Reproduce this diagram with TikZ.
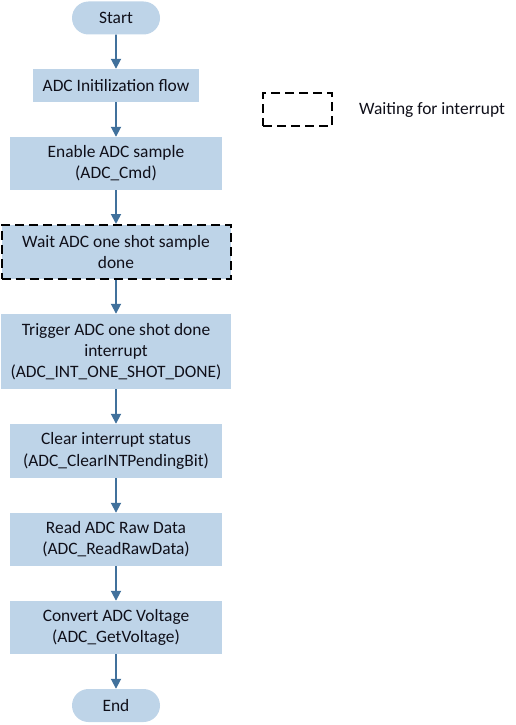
\documentclass[tikz,border=0pt]{standalone}
\usepackage{fontspec}
\setmainfont{Carlito}
\usetikzlibrary{arrows.meta,shapes.misc}
\definecolor{boxfill}{RGB}{190,212,232}
\definecolor{arrowc}{RGB}{65,113,156}
\definecolor{txt}{RGB}{15,15,25}
\tikzset{
  txtfont/.style={font=\fontsize{17.4}{21.3}\selectfont},
  proc/.style={rectangle, fill=boxfill, inner sep=0pt, align=center, text=txt, txtfont},
  term/.style={rounded rectangle, fill=boxfill, inner sep=0pt, text=txt, txtfont, minimum width=88pt, minimum height=33pt},
  waitbox/.style={draw=black, line width=2pt, dash pattern=on 9pt off 5pt},
  flow/.style={draw=arrowc, line width=1.8pt, -{Triangle[width=10pt,length=10pt]}}
}
\begin{document}
\begin{tikzpicture}[x=1pt,y=-1pt]
\useasboundingbox (0,0) rectangle (516,725);
\node[term] (start) at (116,18) {Start};
\node[proc, minimum width=166pt, minimum height=33pt] (init) at (116,85.5) {ADC Initilization flow};
\node[proc, minimum width=212pt, minimum height=53pt] (enable) at (116,163.5) {Enable ADC sample\\(ADC\_Cmd)};
\node[proc, waitbox, minimum width=229pt, minimum height=54pt] (wait) at (116,252) {Wait ADC one shot sample\\done};
\node[proc, minimum width=230pt, minimum height=75pt] (trig) at (116,351.5) {Trigger ADC one shot done\\interrupt\\(ADC\_INT\_ONE\_SHOT\_DONE)};
\node[proc, minimum width=212pt, minimum height=54pt] (clear) at (116,451) {Clear interrupt status\\(ADC\_ClearINTPendingBit)};
\node[proc, minimum width=212pt, minimum height=53pt] (read) at (116,539.5) {Read ADC Raw Data\\(ADC\_ReadRawData)};
\node[proc, minimum width=212pt, minimum height=53pt] (conv) at (116,627.5) {Convert ADC Voltage\\(ADC\_GetVoltage)};
\node[term] (end) at (116,705.5) {End};
\draw[flow] (start) -- (init);
\draw[flow] (init) -- (enable);
\draw[flow] (enable) -- (wait);
\draw[flow] (wait) -- (trig);
\draw[flow] (trig) -- (clear);
\draw[flow] (clear) -- (read);
\draw[flow] (read) -- (conv);
\draw[flow] (conv) -- (end);
\node[waitbox, rectangle, minimum width=69pt, minimum height=33pt, inner sep=0pt] (legbox) at (297.5,109.5) {};
\node[anchor=west, text=txt, txtfont, inner sep=0pt] (legtext) at (359,109.5) {Waiting for interrupt};
\end{tikzpicture}
\end{document}
